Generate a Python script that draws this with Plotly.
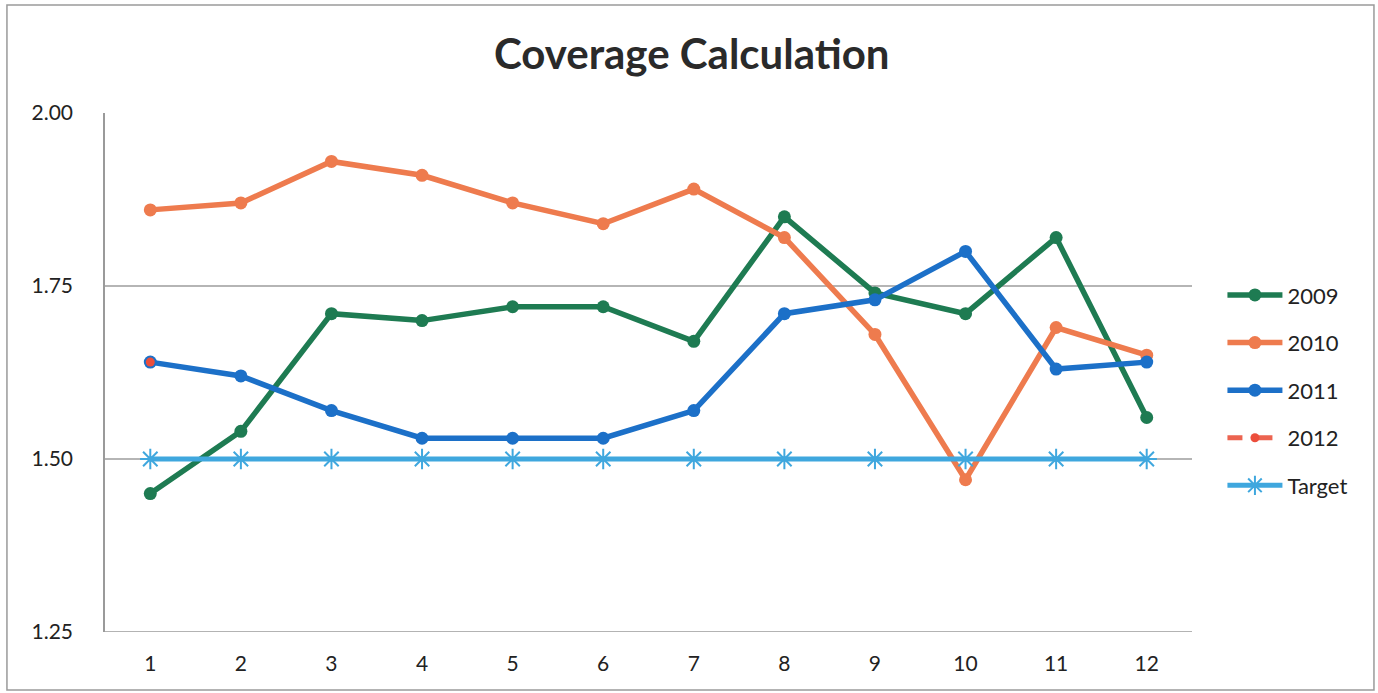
import plotly.graph_objects as go

months = [1, 2, 3, 4, 5, 6, 7, 8, 9, 10, 11, 12]
y2009 = [1.45, 1.54, 1.71, 1.70, 1.72, 1.72, 1.67, 1.85, 1.74, 1.71, 1.82, 1.56]
y2010 = [1.86, 1.87, 1.93, 1.91, 1.87, 1.84, 1.89, 1.82, 1.68, 1.47, 1.69, 1.65]
y2011 = [1.64, 1.62, 1.57, 1.53, 1.53, 1.53, 1.57, 1.71, 1.73, 1.80, 1.63, 1.64]
months_2012 = [1]
y2012 = [1.64]
target = [1.50] * 12
ytick_vals = [1.25, 1.50, 1.75, 2.00]
ytick_text = ["1.25", "1.50", "1.75", "2.00"]

FONT = "Lato, 'Open Sans', sans-serif"

fig = go.Figure()

fig.add_trace(go.Scatter(
    x=months, y=y2009, name="2009", mode="lines+markers", legendgroup="a",
    line=dict(color="#1E7B52", width=5.5),
    marker=dict(color="#1E7B52", size=13, symbol="circle"),
))
fig.add_trace(go.Scatter(
    x=months, y=y2010, name="2010", mode="lines+markers", legendgroup="b",
    line=dict(color="#EE7B4E", width=5.5),
    marker=dict(color="#EE7B4E", size=13, symbol="circle"),
))
fig.add_trace(go.Scatter(
    x=months, y=y2011, name="2011", mode="lines+markers", legendgroup="c",
    line=dict(color="#1C70C8", width=5.5),
    marker=dict(color="#1C70C8", size=13, symbol="circle"),
))
fig.add_trace(go.Scatter(
    x=months_2012, y=y2012, name="2012", mode="lines+markers", legendgroup="d",
    line=dict(color="#EC6450", width=5, dash="dash"),
    marker=dict(color="#EC4E3C", size=9, symbol="circle"),
))
fig.add_trace(go.Scatter(
    x=months, y=target, name="Target", mode="lines+markers", legendgroup="e",
    line=dict(color="#3FA7DE", width=5),
    marker=dict(color="#3FA7DE", size=17, symbol="asterisk-open",
                line=dict(color="#3FA7DE", width=2)),
))

fig.add_shape(
    type="rect", xref="paper", yref="paper",
    x0=-0.0902, x1=1.1674, y0=-0.1118, y1=1.2081,
    line=dict(color="#9A9A9A", width=1.5), layer="below",
)

fig.update_layout(
    width=1378, height=693,
    margin=dict(l=105, r=186, t=113, b=61),
    paper_bgcolor="white", plot_bgcolor="white",
    font=dict(family=FONT, color="#222222", size=21),
    title=dict(
        text="<b>Coverage Calculation</b>",
        x=0.502, xref="container", xanchor="center",
        y=0.921, yref="container", yanchor="middle",
        font=dict(family=FONT, size=42, color="#2A2A2A"),
    ),
    xaxis=dict(
        type="linear", range=[0.5, 12.5],
        tickvals=months, ticktext=[str(m) for m in months],
        showgrid=False, zeroline=False, showline=False,
        ticks="", ticklabelstandoff=17,
        tickfont=dict(size=21, color="#222222"),
    ),
    yaxis=dict(
        range=[1.25, 2.00],
        tickvals=ytick_vals, ticktext=ytick_text,
        showgrid=True, gridcolor="#B5B5B5", gridwidth=1.5,
        zeroline=False, showline=True, linecolor="#9A9A9A", linewidth=1.5,
        ticks="", ticklabelstandoff=26,
        tickfont=dict(size=21, color="#222222"),
    ),
    legend=dict(
        x=1.028, xanchor="left", y=0.466, yanchor="middle",
        font=dict(size=22, color="#222222"),
        tracegroupgap=16, itemwidth=55,
        bgcolor="rgba(0,0,0,0)",
    ),
    showlegend=True,
)

# bottom axis line at 1.25
fig.add_shape(
    type="line", xref="paper", yref="y",
    x0=0, x1=1, y0=1.25, y1=1.25,
    line=dict(color="#9A9A9A", width=1.5), layer="below",
)

fig.write_html("out.html")
